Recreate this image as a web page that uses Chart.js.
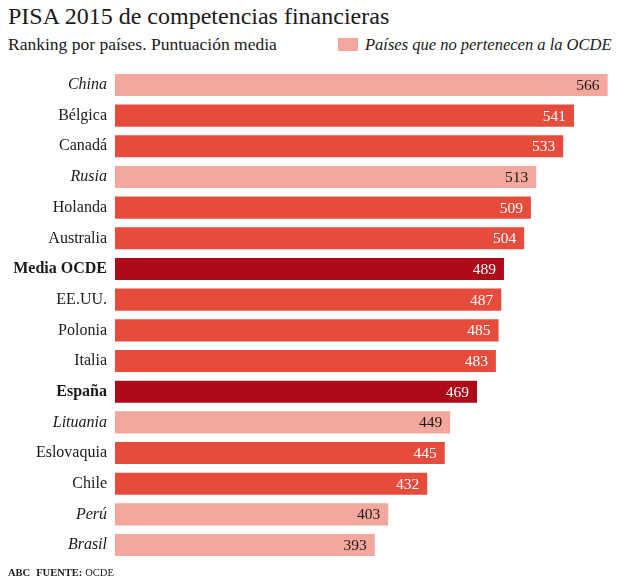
<!DOCTYPE html>
<html>
<head>
<meta charset="utf-8">
<script src="https://cdn.jsdelivr.net/npm/chart.js@4/dist/chart.umd.min.js"></script>
<style>
  html, body { margin:0; padding:0; background:#fff; }
  body { width:620px; height:583px; position:relative; overflow:hidden; font-family:"Liberation Serif", serif; color:#1a1a1a; }
  .title { position:absolute; left:8px; top:3px; font-size:24px; white-space:nowrap; }
  .sub { position:absolute; left:8px; top:34px; font-size:17.5px; white-space:nowrap; }
  .leg-box { position:absolute; left:338px; top:38px; width:20px; height:13px; background:#f4a79c; }
  .leg-txt { position:absolute; left:365px; top:35px; font-size:16.5px; font-style:italic; white-space:nowrap; }
  .foot { position:absolute; left:8px; top:567px; font-size:10.5px; white-space:nowrap; }
  .foot b { margin-right:6px; }
  .wrap { position:absolute; left:0; top:52px; width:620px; height:526px; }
</style>
</head>
<body>
<div class="title">PISA 2015 de competencias financieras</div>
<div class="sub">Ranking por países. Puntuación media</div>
<div class="leg-box"></div>
<div class="leg-txt">Países que no pertenecen a la OCDE</div>
<div class="wrap"><canvas id="c-pisa"></canvas></div>
<div class="foot"><b>ABC</b><b style="margin-right:3px">FUENTE:</b>OCDE</div>

<script>
// Ranking PISA 2015 (competencia financiera)
const countries = ['China','Bélgica','Canadá','Rusia','Holanda','Australia','Media OCDE','EE.UU.','Polonia','Italia','España','Lituania','Eslovaquia','Chile','Perú','Brasil'];
const scores    = [566, 541, 533, 513, 509, 504, 489, 487, 485, 483, 469, 449, 445, 432, 403, 393];
// 'no' = fuera de la OCDE, 'ocde' = miembro, 'dest' = destacado
const groups    = ['no','ocde','ocde','no','ocde','ocde','dest','ocde','ocde','ocde','dest','no','ocde','ocde','no','no'];

const COLORS = { no:'#f4a79c', ocde:'#e64c3c', dest:'#ae0b1a' };
const FONT = '"Liberation Serif", serif';

// value labels inside the end of each bar
const valueLabels = {
  id: 'valueLabels',
  afterDatasetsDraw(chart) {
    const ctx = chart.ctx;
    const meta = chart.getDatasetMeta(0);
    ctx.save();
    ctx.font = `15.5px ${FONT}`;
    ctx.textAlign = 'right';
    ctx.textBaseline = 'middle';
    meta.data.forEach((bar, i) => {
      ctx.fillStyle = groups[i] === 'no' ? '#1a1a1a' : '#ffffff';
      ctx.fillText(scores[i], bar.x - 8, bar.y + 1);
    });
    ctx.restore();
  }
};

new Chart(document.getElementById('c-pisa'), {
  type: 'bar',
  data: {
    labels: countries,
    datasets: [{
      data: scores,
      backgroundColor: groups.map(g => COLORS[g]),
      borderWidth: 0,
      categoryPercentage: 0.72,
      barPercentage: 1
    }]
  },
  options: {
    indexAxis: 'y',
    responsive: true, maintainAspectRatio: false,
    animation: false,
    layout: { padding: { top: 8, bottom: 0, right: 7, left: 0 } },
    plugins: { legend: { display: false }, tooltip: { enabled: false } },
    scales: {
      x: { display: false, min: 200, max: 570 },
      y: {
        grid: { display: false, drawTicks: false }, border: { display: false },
        afterFit(scale) { scale.width = 115; },
        ticks: {
          padding: 8,
          color: '#1a1a1a',
          font: c => ({
            family: FONT, size: 16,
            style: groups[c.index] === 'no' ? 'italic' : 'normal',
            weight: groups[c.index] === 'dest' ? 'bold' : 'normal'
          })
        }
      }
    }
  },
  plugins: [valueLabels]
});
</script>
</body>
</html>
